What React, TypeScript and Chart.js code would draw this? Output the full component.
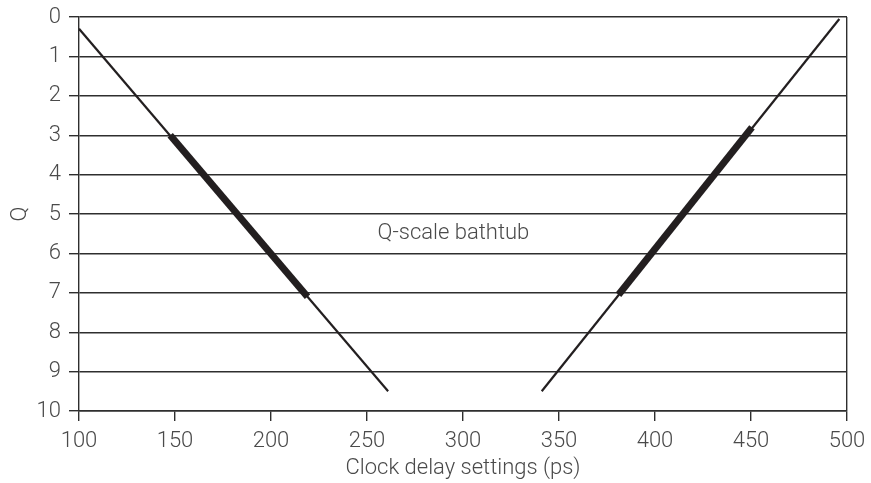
import React, { useEffect, useRef } from "react";
import { Chart, registerables } from "chart.js";

Chart.register(...registerables);

const xTicks = [100, 150, 200, 250, 300, 350, 400, 450, 500];
const qTicks = [0, 1, 2, 3, 4, 5, 6, 7, 8, 9, 10];

const leftThinX = [100, 261];
const leftThinQ = [0.3, 9.5];
const leftThickX = [147.5, 219];
const leftThickQ = [3, 7.1];
const rightThinX = [341, 496];
const rightThinQ = [9.5, 0.05];
const rightThickX = [381, 450.5];
const rightThickQ = [7.05, 2.8];

const labelText = "Q-scale bathtub";
const labelX = 295;
const labelQ = 5.5;

const xTitle = "Clock delay settings (ps)";
const yTitle = "Q";

const pts = (xs: number[], ys: number[]) => xs.map((x, i) => ({ x, y: ys[i] }));

const FONT = "Roboto";
const TEXT = "#4a4a4a";
const GRID = "#2e2e2e";
const LINE = "#231f20";
const FS = 22;

const textPlugin = {
  id: "qlabel",
  afterDatasetsDraw(chart: any) {
    const { ctx, scales } = chart;
    const px = scales.x.getPixelForValue(labelX);
    const py = scales.y.getPixelForValue(labelQ);
    ctx.save();
    ctx.font = `300 ${FS}px ${FONT}`;
    ctx.fillStyle = TEXT;
    ctx.textAlign = "center";
    ctx.textBaseline = "middle";
    ctx.fillText(labelText, px, py);
    ctx.restore();
  },
};

export default function App() {
  const ref = useRef<HTMLCanvasElement | null>(null);
  useEffect(() => {
    document.body.style.margin = "0";
    const canvas = ref.current!;
    const ds = (xs: number[], ys: number[], w: number) => ({
      data: pts(xs, ys),
      showLine: true,
      borderColor: LINE,
      backgroundColor: LINE,
      borderWidth: w,
      pointRadius: 0,
      borderCapStyle: "butt" as const,
    });
    const chart = new Chart(canvas, {
      type: "scatter",
      data: {
        datasets: [
          ds(leftThinX, leftThinQ, 2.2),
          ds(leftThickX, leftThickQ, 7),
          ds(rightThinX, rightThinQ, 2.2),
          ds(rightThickX, rightThickQ, 7),
        ],
      },
      options: {
        animation: false,
        responsive: false,
        maintainAspectRatio: false,
        layout: { padding: { left: 0, top: 17, right: 24, bottom: 0 } },
        plugins: { legend: { display: false }, tooltip: { enabled: false } },
        scales: {
          x: {
            type: "linear",
            min: 100,
            max: 500,
            afterBuildTicks: (s: any) => {
              s.ticks = xTicks.map((v) => ({ value: v }));
            },
            afterFit: (s: any) => {
              s.height = 72;
              s.paddingLeft = 0;
              s.paddingRight = 0;
            },
            grid: {
              color: (c: any) => (c.tick && c.tick.value === 500 ? GRID : "rgba(0,0,0,0)"),
              tickColor: GRID,
              lineWidth: 1.4,
              tickLength: 10,
              drawOnChartArea: true,
            },
            border: { color: GRID, width: 1.4 },
            ticks: {
              color: TEXT,
              font: { family: FONT, size: FS, weight: 300 },
              padding: 7,
              maxRotation: 0,
            },
            title: {
              display: true,
              text: xTitle,
              color: TEXT,
              font: { family: FONT, size: FS, weight: 300 },
              padding: { top: 0, bottom: 1 },
            },
          },
          y: {
            type: "linear",
            reverse: true,
            min: 0,
            max: 10,
            afterBuildTicks: (s: any) => {
              s.ticks = qTicks.map((v) => ({ value: v }));
            },
            afterFit: (s: any) => {
              s.width = 79;
              s.paddingTop = 0;
              s.paddingBottom = 0;
            },
            grid: {
              color: GRID,
              tickColor: GRID,
              lineWidth: 1.4,
              tickLength: 10,
            },
            border: { color: GRID, width: 1.4 },
            ticks: {
              color: TEXT,
              font: { family: FONT, size: FS, weight: 300 },
              padding: 8,
            },
            title: {
              display: true,
              text: yTitle,
              color: TEXT,
              font: { family: FONT, size: FS, weight: 300 },
              padding: { top: 7, bottom: 0 },
            },
          },
        },
      },
      plugins: [textPlugin],
    });
    return () => chart.destroy();
  }, []);
  return (
    <div style={{ width: 871, height: 483 }}>
      <canvas ref={ref} width={871} height={483} style={{ width: 871, height: 483, display: "block" }} />
    </div>
  );
}
